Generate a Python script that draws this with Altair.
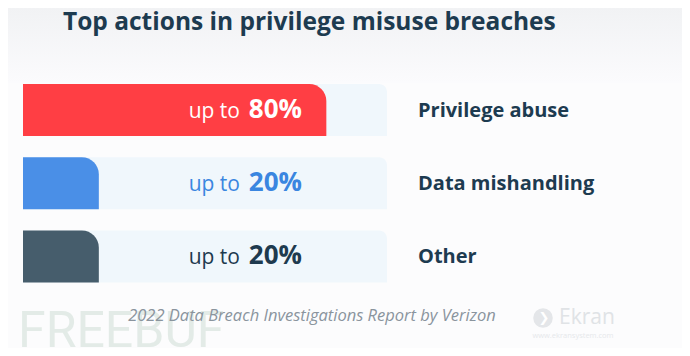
import altair as alt
import pandas as pd

# ---- data ----
categories = ["Privilege abuse", "Data mishandling", "Other"]
values = [80, 20, 20]
bar_colors = ["#ff3e44", "#4a8fe7", "#465d6c"]
label_colors = ["#ffffff", "#3a86e0", "#1e3a4f"]
title_text = "Top actions in privilege misuse breaches"
source_text = "2022 Data Breach Investigations Report by Verizon"

TRACK_MAX = 96

df = pd.DataFrame({
    "category": categories,
    "value": values,
    "pct": [f"{v}%" for v in values],
    "prefix": ["up to"] * len(values),
    "track": [TRACK_MAX] * len(values),
    "bar_color": bar_colors,
    "label_color": label_colors,
})

FONT = "Open Sans"
W, H = 674, 340

x_scale = alt.Scale(domain=[0, TRACK_MAX], range=[15, 379], nice=False, zero=True)
y_scale = alt.Scale(domain=categories, range=[76, 274.5], paddingInner=0.29, paddingOuter=0)

xenc = alt.X("value:Q", scale=x_scale, axis=None)
yenc = alt.Y("category:N", scale=y_scale, axis=None, sort=categories)

base = alt.Chart(df)

# background gradient at top
bg = alt.Chart(pd.DataFrame({"a": [0]})).mark_rect(
    color=alt.Gradient(
        gradient="linear",
        stops=[alt.GradientStop(color="#f1f2f4", offset=0),
               alt.GradientStop(color="#fbfbfd", offset=1)],
        x1=0, x2=0, y1=0, y2=1,
    )
).encode(x=alt.value(0), x2=alt.value(W), y=alt.value(0), y2=alt.value(75))

track = base.mark_bar(color="#f0f7fc", cornerRadiusTopRight=8).encode(
    x=alt.X("track:Q", scale=x_scale, axis=None),
    x2=alt.datum(0),
    y=yenc,
)

bars = base.mark_bar(cornerRadiusTopRight=17).encode(
    x=xenc,
    x2=alt.datum(0),
    y=yenc,
    color=alt.Color("bar_color:N", scale=None, legend=None),
)

pct_text = base.mark_text(align="right", baseline="alphabetic", font=FONT,
                          fontWeight="bold", fontSize=26, dy=8).encode(
    x=alt.value(294),
    y=yenc,
    text="pct:N",
    color=alt.Color("label_color:N", scale=None, legend=None),
)

prefix_text = base.mark_text(align="right", baseline="alphabetic", font=FONT,
                             fontSize=21, fontWeight=500, dy=8).encode(
    x=alt.value(232),
    y=yenc,
    text="prefix:N",
    color=alt.Color("label_color:N", scale=None, legend=None),
)

cat_text = base.mark_text(align="left", baseline="alphabetic", font=FONT,
                          fontWeight="bold", fontSize=20, color="#1d3b50", dy=7).encode(
    x=alt.value(410),
    y=yenc,
    text="category:N",
)

title = alt.Chart(pd.DataFrame({"t": [title_text]})).mark_text(
    align="left", baseline="middle", font=FONT, fontWeight="bold",
    fontSize=24.5, color="#1d3b50"
).encode(x=alt.value(55), y=alt.value(15), text="t:N")

source = alt.Chart(pd.DataFrame({"t": [source_text]})).mark_text(
    align="center", baseline="middle", font=FONT, fontStyle="italic",
    fontSize=16.5, color="#8a949d"
).encode(x=alt.value(304), y=alt.value(308), text="t:N")

freebuf = alt.Chart(pd.DataFrame({"t": ["FREEBUF"]})).mark_text(
    align="left", baseline="alphabetic", font="Liberation Sans Narrow, Roboto", fontSize=50,
    color="#e3ebe7"
).encode(x=alt.value(10), y=alt.value(339), text="t:N")

ekran_icon = alt.Chart(pd.DataFrame({"t": ["\u276f"]})).mark_point(
    shape="circle", filled=True, size=380, color="#e4e6e9", opacity=1
).encode(x=alt.value(535), y=alt.value(310))

ekran_arrow = alt.Chart(pd.DataFrame({"t": ["\u276f"]})).mark_text(
    align="center", baseline="middle", font="DejaVu Sans", fontSize=13,
    fontWeight="bold", color="#ffffff"
).encode(x=alt.value(536), y=alt.value(310), text="t:N")

ekran = alt.Chart(pd.DataFrame({"t": ["Ekran"]})).mark_text(
    align="left", baseline="middle", font=FONT, fontSize=21,
    color="#e0e3e6"
).encode(x=alt.value(551), y=alt.value(310), text="t:N")

ekran_url = alt.Chart(pd.DataFrame({"t": ["www.ekransystem.com"]})).mark_text(
    align="center", baseline="middle", font=FONT, fontSize=7.5,
    color="#e6e8eb"
).encode(x=alt.value(565), y=alt.value(328), text="t:N")

chart = alt.layer(
    bg, track, bars, prefix_text, pct_text, cat_text, title,
    freebuf, source, ekran_icon, ekran_arrow, ekran, ekran_url
).properties(
    width=W, height=H,
    autosize=alt.AutoSizeParams(type="fit", contains="padding"),
    padding=0,
    background="#fcfcfd",
).configure_view(stroke=None)

chart.save("out.html", embed_options={"renderer": "svg", "actions": False})
